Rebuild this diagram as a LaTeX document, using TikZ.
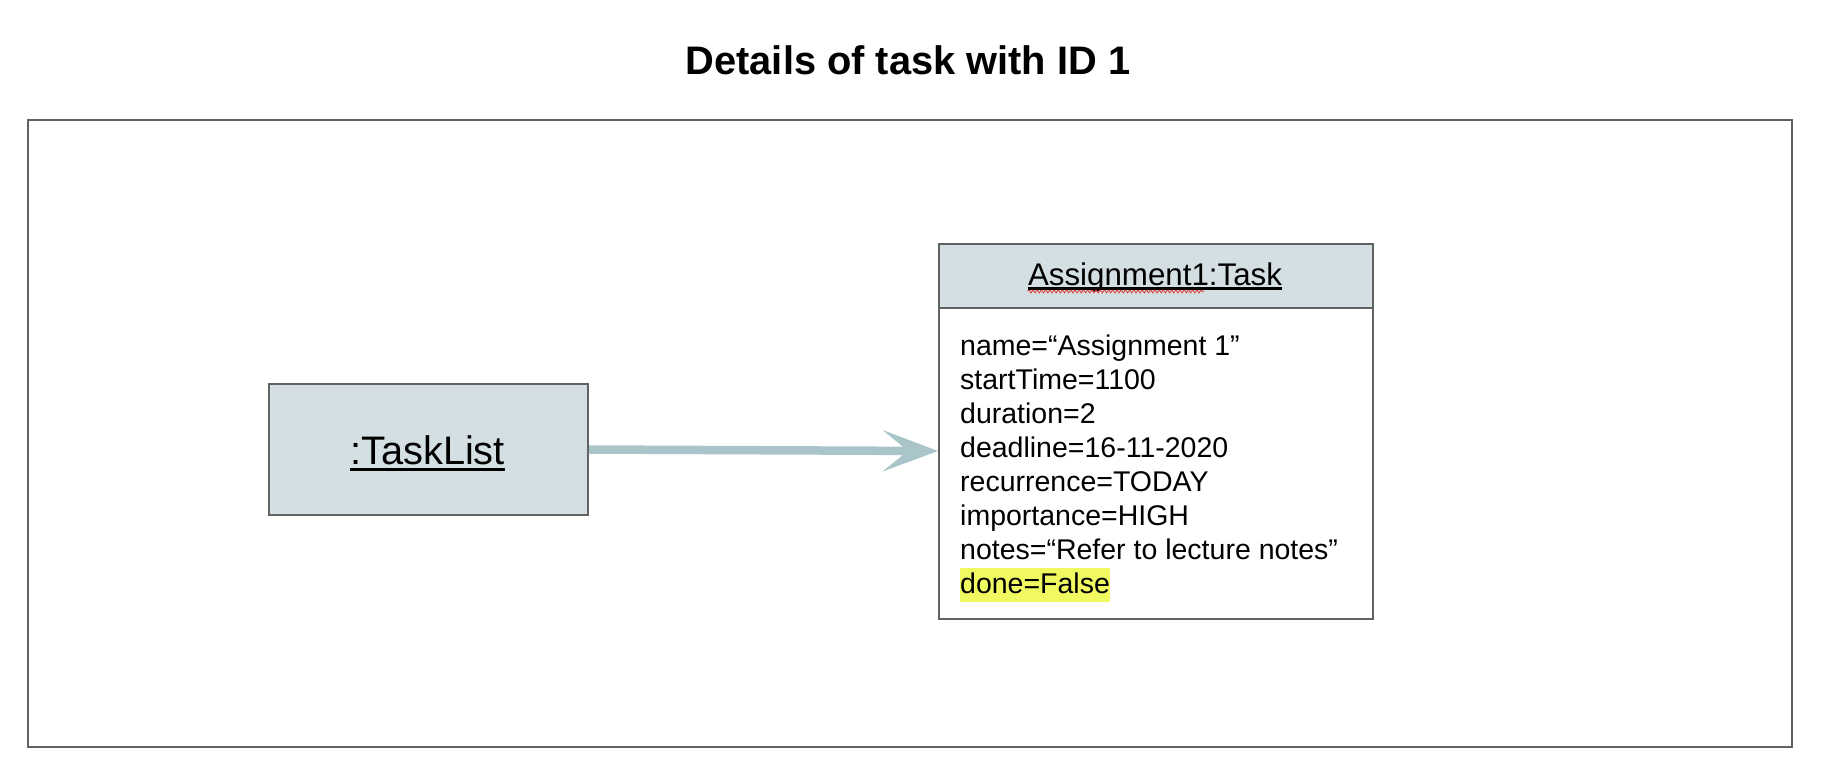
\documentclass[tikz,border=0pt]{standalone}
\usepackage{fontspec}
\setmainfont{Liberation Sans}
\usetikzlibrary{arrows.meta,decorations.pathmorphing}
\definecolor{boxfill}{HTML}{D4DFE3}
\definecolor{boxline}{HTML}{626262}
\definecolor{arrowcol}{HTML}{A9C5CA}
\definecolor{hl}{HTML}{F0FA60}
\definecolor{spell}{HTML}{E0443A}
\tikzset{
  objbox/.style={draw=boxline, line width=2pt, inner sep=0pt},
  txt/.style={inner sep=0pt, anchor=base west, font=\fontsize{28.5pt}{34pt}\selectfont},
  uline/.style={line width=2.2pt, black},
  link/.style={draw=arrowcol, line width=8.5pt, -{Stealth[length=55pt,width=41pt,inset=25pt,fill=arrowcol]}}
}
\begin{document}
\begin{tikzpicture}[x=1pt,y=-1pt]
\useasboundingbox (0,0) rectangle (1826,780);
% title
\node[inner sep=0pt, anchor=base, font=\fontsize{39.8pt}{44pt}\selectfont\bfseries] (title) at (908,74) {Details of task with ID 1};
% frame
\node[draw=boxline, line width=2.2pt, inner sep=0pt, minimum width=1764pt, minimum height=627pt, anchor=north west] (frame) at (27,119) {};
% TaskList
\node[objbox, fill=boxfill, minimum width=319pt, minimum height=131pt, anchor=north west] (tl) at (268,383) {};
\node[inner sep=0pt, anchor=base, font=\fontsize{39.8pt}{44pt}\selectfont] (tltext) at (427.5,464) {:TaskList};
\draw[line width=3pt] ([yshift=-5.5pt]tltext.base west) -- ([yshift=-5.5pt]tltext.base east);
% Task object
\node[objbox, fill=white, minimum width=434pt, minimum height=311pt, anchor=north west] (taskbody) at (938,307) {};
\node[objbox, fill=boxfill, minimum width=434pt, minimum height=64pt, anchor=north west] (taskhdr) at (938,243) {};
\node[inner sep=0pt, anchor=base, font=\fontsize{31.3pt}{34pt}\selectfont] (hdrtext) at (1155,285.5) {Assignment1:Task};
\draw[spell, line width=0.9pt, decorate, decoration={zigzag, amplitude=1.6pt, segment length=4.2pt}]
  ([yshift=-5.8pt]hdrtext.base west) -- ([yshift=-5.8pt,xshift=176pt]hdrtext.base west);
\draw[uline] ([yshift=-3pt]hdrtext.base west) -- ([yshift=-3pt]hdrtext.base east);
% attributes
\node[txt] (a1) at (960,355) {name=“Assignment 1”};
\node[txt] (a2) at (960,389) {startTime=1100};
\node[txt] (a3) at (960,423) {duration=2};
\node[txt] (a4) at (960,457) {deadline=16-11-2020};
\node[txt] (a5) at (960,491.5) {recurrence=TODAY};
\node[txt] (a6) at (960,525.5) {importance=HIGH};
\node[txt] (a7) at (960,559.5) {notes=“Refer to lecture notes”};
\node[txt, fill=hl, text height=25.5pt, text depth=8.5pt] (a8) at (960,593.5) {done=False};
% connector
\coordinate (tip) at (938,451);
\draw[link] (tl.east) -- (tip);
\end{tikzpicture}
\end{document}
